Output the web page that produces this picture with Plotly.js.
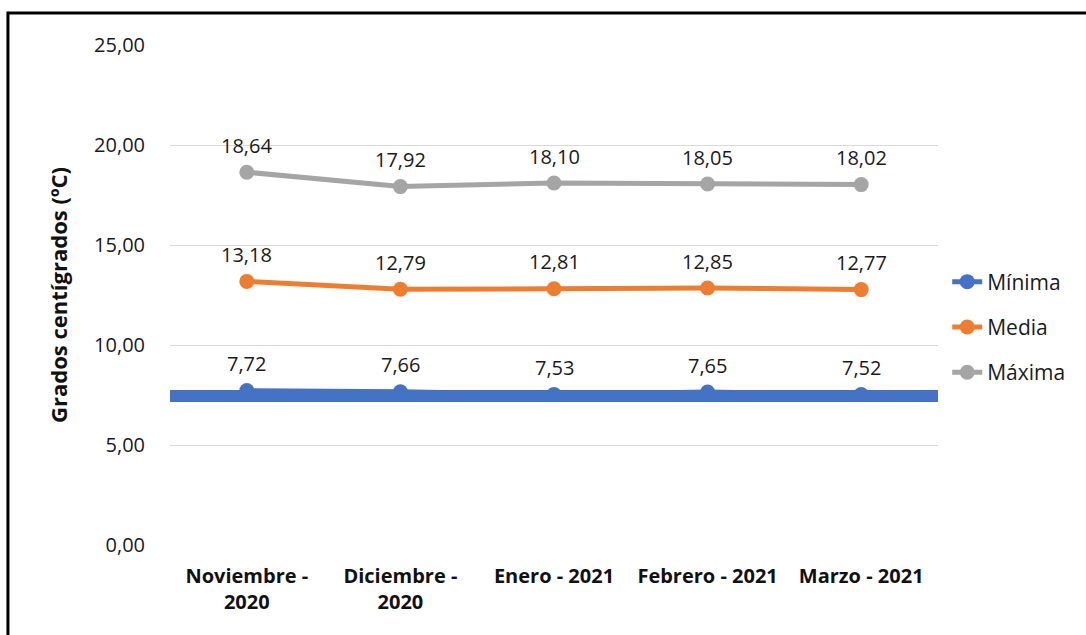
<!DOCTYPE html>
<html>
<head>
<meta charset="utf-8">
<script src="https://cdn.plot.ly/plotly-3.0.1.min.js"></script>
<style>
html,body{margin:0;padding:0;background:#fff;overflow:hidden;}
#chart{width:1086px;height:635px;}
</style>
</head>
<body>
<div id="chart"></div>
<script>
const categories = ["Noviembre -<br>2020", "Diciembre -<br>2020", "Enero - 2021", "Febrero - 2021", "Marzo - 2021"];
const minima = [7.72, 7.66, 7.53, 7.65, 7.52];
const media = [13.18, 12.79, 12.81, 12.85, 12.77];
const maxima = [18.64, 17.92, 18.10, 18.05, 18.02];
const bandLevel = 7.45;
const yTicks = [0, 5, 10, 15, 20, 25];

const FONT = "Open Sans, Liberation Sans, sans-serif";
const fmt = v => v.toFixed(2).replace('.', ',');

const series = [
  {name: "Mínima", y: minima, color: "#4472C4"},
  {name: "Media", y: media, color: "#ED7D31"},
  {name: "Máxima", y: maxima, color: "#A5A5A5"}
];

const traces = series.map((s, i) => ({
  type: "scatter",
  mode: "lines+markers",
  name: s.name,
  x: categories,
  y: s.y,
  legendgroup: "g" + i,
  line: {color: s.color, width: 5},
  marker: {color: s.color, size: 15},
  hoverinfo: "skip"
}));

const annotations = [];
series.forEach(s => {
  s.y.forEach((v, j) => {
    annotations.push({
      x: categories[j], y: v, xref: "x", yref: "y",
      text: fmt(v), showarrow: false, yanchor: "middle", yshift: 27,
      font: {family: FONT, size: 20, color: "#1a1a1a"}
    });
  });
});

const layout = {
  width: 1086, height: 635,
  margin: {l: 170, r: 148, t: 45, b: 90, pad: 0},
  paper_bgcolor: "#fff", plot_bgcolor: "#fff",
  font: {family: FONT, size: 20, color: "#1a1a1a"},
  showlegend: true,
  legend: {
    x: 1.012, xanchor: "left", y: 0.436, yanchor: "middle",
    traceorder: "grouped", tracegroupgap: 15,
    font: {family: FONT, size: 21, color: "#1a1a1a"},
    bgcolor: "rgba(0,0,0,0)"
  },
  xaxis: {
    type: "category", range: [-0.5, 4.5],
    tickfont: {family: FONT, size: 20, color: "#111", weight: "bold"},
    showgrid: false, zeroline: false, showline: false,
    ticks: "", ticklabelstandoff: 17, fixedrange: true
  },
  yaxis: {
    range: [0, 25], tickvals: yTicks, ticktext: yTicks.map(fmt),
    tickfont: {family: FONT, size: 20, color: "#1a1a1a"},
    showgrid: true, gridcolor: "#d9d9d9", gridwidth: 1,
    zeroline: false, showline: false, ticks: "", ticklen: 0,
    ticklabelstandoff: 24,
    title: {text: "Grados centígrados (ºC)", font: {family: FONT, size: 22, color: "#111", weight: "bold"}, standoff: 20},
    automargin: false
  },
  annotations: annotations,
  shapes: [
    {type: "line", xref: "paper", yref: "y", x0: 0, x1: 1, y0: bandLevel, y1: bandLevel,
     line: {color: "#4472C4", width: 12}, layer: "above"},
    {type: "rect", xref: "paper", yref: "paper", x0: -0.211, x1: 1.3, y0: 1.064, y1: -0.3,
     line: {color: "#000", width: 3}, layer: "above"}
  ]
};

Plotly.newPlot("chart", traces, layout, {displayModeBar: false, staticPlot: true});
</script>
</body>
</html>
